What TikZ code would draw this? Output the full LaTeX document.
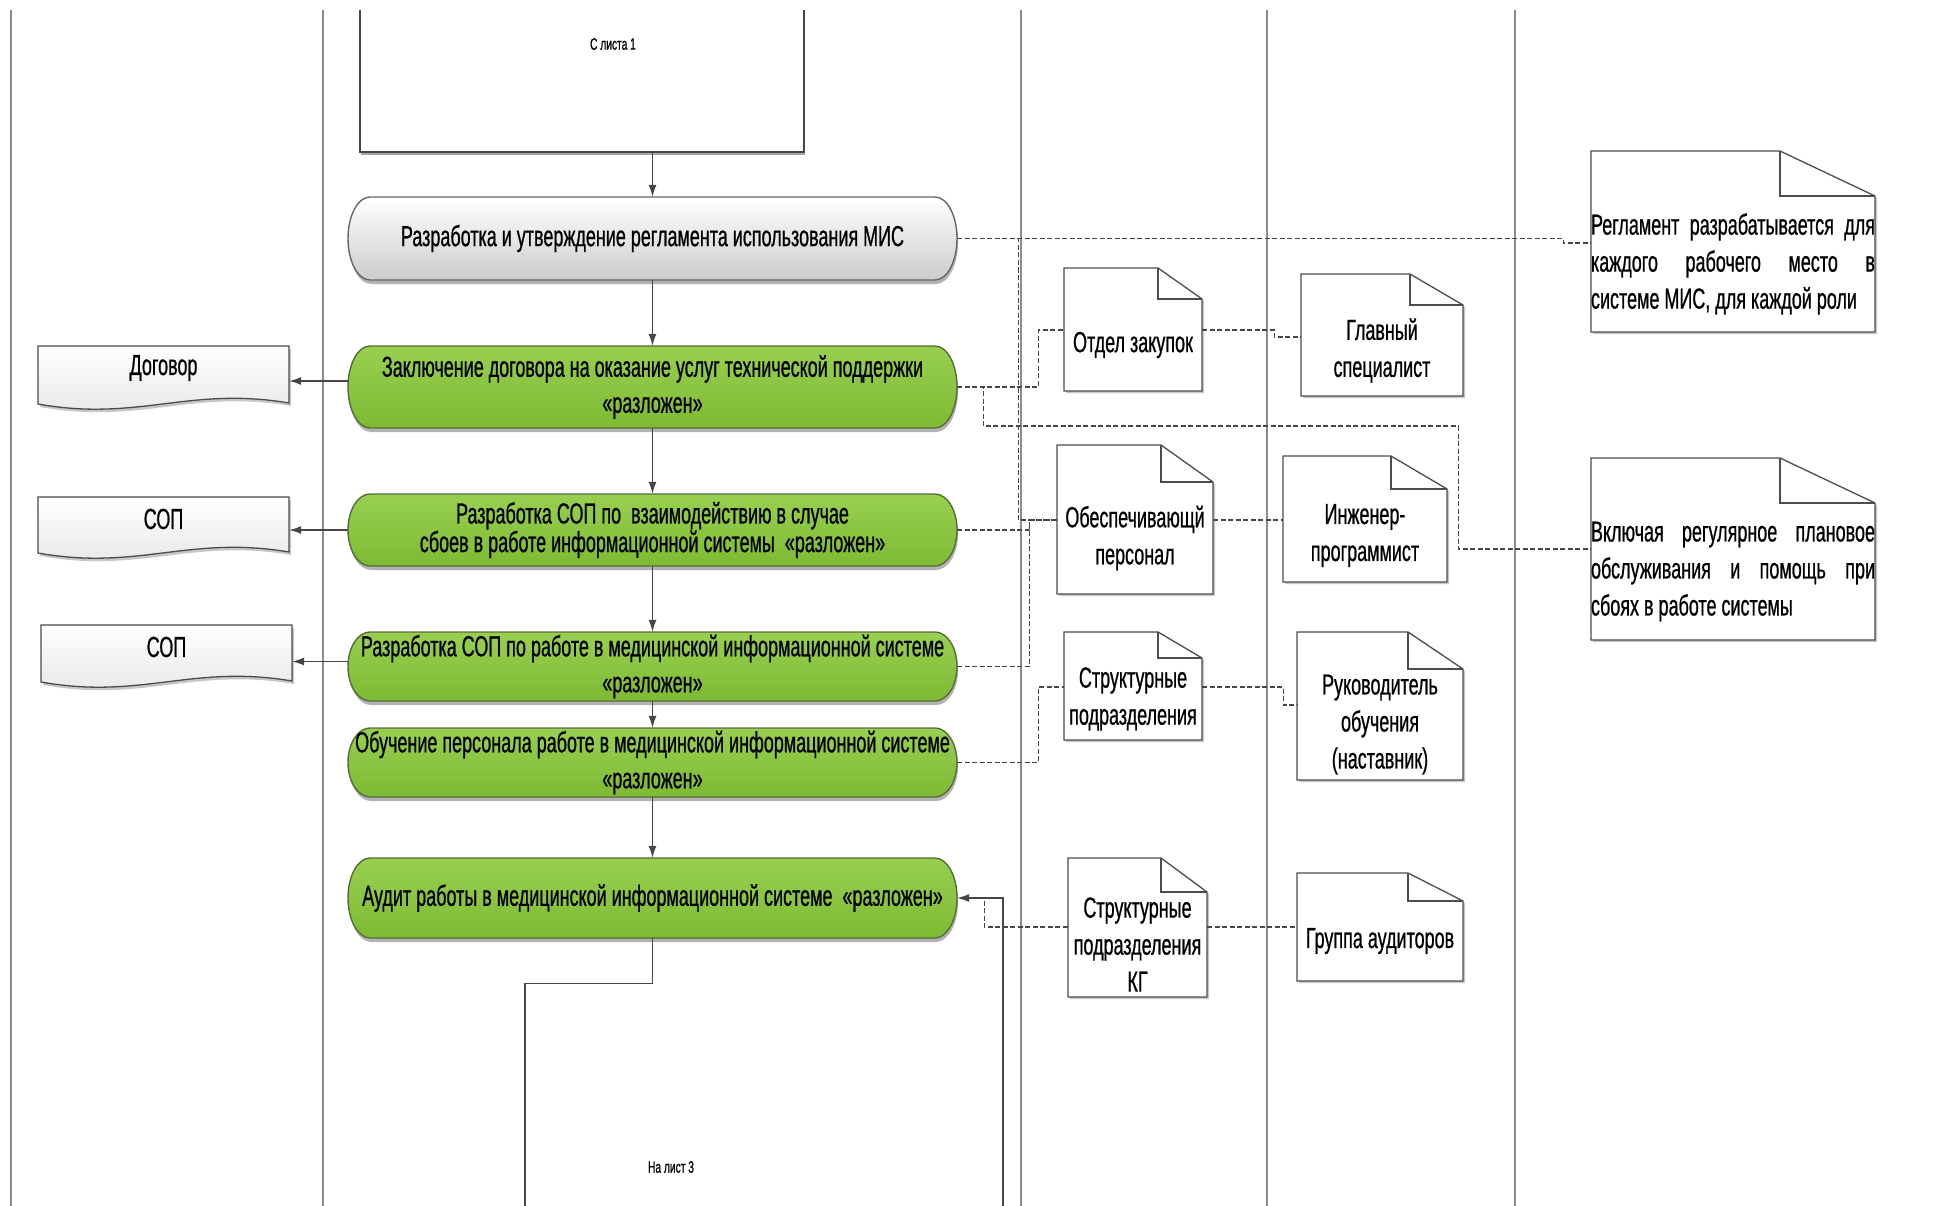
\documentclass[tikz,border=0pt]{standalone}
\usepackage{fontspec}
\setmainfont{Liberation Sans}[FakeStretch=0.62,FakeBold=0.7]
\usetikzlibrary{arrows.meta,calc}

\definecolor{procgreenT}{RGB}{152,207,80}
\definecolor{procgreenB}{RGB}{126,186,52}
\definecolor{procedge}{RGB}{86,108,58}
\definecolor{laneline}{RGB}{140,140,140}
\definecolor{inkline}{RGB}{70,70,70}

\tikzset{
  lane/.style={draw=laneline, line width=1.3pt},
  link/.style={draw=inkline, line width=1.2pt},
  arr/.style={link, -{Latex[length=12pt,width=8pt]}},
  dashlink/.style={draw=inkline, line width=1.3pt, dash pattern=on 5pt off 2.5pt},
  procfill/.style={draw=procedge, line width=1.4pt, top color=procgreenT, bottom color=procgreenB},
  whitefill/.style={draw=black!60, line width=1.4pt, top color=white, bottom color=black!20},
  shade/.style={fill=black!30, draw=none},
  lightshade/.style={fill=black!22, draw=none},
  proclabel/.style={inner sep=0pt, align=center, font=\fontsize{29}{36}\selectfont},
  notebody/.style={inner sep=0pt, align=center, font=\fontsize{29}{37}\selectfont},
  noteline/.style={draw=black!70, line width=1.3pt, fill=white},
  docline/.style={draw=black!70, line width=1.3pt, top color=white, bottom color=black!10},
  small/.style={inner sep=0pt, font=\fontsize{16.5}{19}\selectfont},
}

% process: rounded-end bar with shadow and a named node on top
% #1 path style, #2 node options, #3 name, #4 left, #5 top, #6 right, #7 bottom, #8 text
\newcommand\procbox[8]{%
  \fill[shade, shift={(1,4)}] ({#4+22},#5) -- ({#6-22},#5)
    .. controls ({#6-9.85},#5) and (#6,{#5+(#7-#5)*0.224}) .. (#6,{(#5+#7)/2})
    .. controls (#6,{#7-(#7-#5)*0.224}) and ({#6-9.85},#7) .. ({#6-22},#7)
    -- ({#4+22},#7)
    .. controls ({#4+9.85},#7) and (#4,{#7-(#7-#5)*0.224}) .. (#4,{(#5+#7)/2})
    .. controls (#4,{#5+(#7-#5)*0.224}) and ({#4+9.85},#5) .. ({#4+22},#5) -- cycle;
  \path[#1] ({#4+22},#5) -- ({#6-22},#5)
    .. controls ({#6-9.85},#5) and (#6,{#5+(#7-#5)*0.224}) .. (#6,{(#5+#7)/2})
    .. controls (#6,{#7-(#7-#5)*0.224}) and ({#6-9.85},#7) .. ({#6-22},#7)
    -- ({#4+22},#7)
    .. controls ({#4+9.85},#7) and (#4,{#7-(#7-#5)*0.224}) .. (#4,{(#5+#7)/2})
    .. controls (#4,{#5+(#7-#5)*0.224}) and ({#4+9.85},#5) .. ({#4+22},#5) -- cycle;
  \node[proclabel, minimum width={#6-#4}, minimum height={#7-#5}, #2] (#3)
    at ({(#4+#6)/2},{(#5+#7)/2}) {#8};
}

% document with a wavy lower edge
% #1 name, #2 left, #3 top, #4 right, #5 wave base, #6 text
\newcommand\docbox[6]{%
  \fill[lightshade, shift={(2,3)}] (#2,#3) -- (#4,#3) -- (#4,{#5-1})
    .. controls ({#4-0.4*(#4-#2)},{#5-18}) and ({#2+0.4*(#4-#2)},{#5+18}) .. (#2,#5) -- cycle;
  \path[docline] (#2,#3) -- (#4,#3) -- (#4,{#5-1})
    .. controls ({#4-0.4*(#4-#2)},{#5-18}) and ({#2+0.4*(#4-#2)},{#5+18}) .. (#2,#5) -- cycle;
  \node[notebody, minimum width={#4-#2}, minimum height=44] (#1)
    at ({(#2+#4)/2},{#3+22}) {#6};
}

% note with a folded corner; the node is the part below the fold
% #1 node options, #2 name, #3 left, #4 top, #5 right, #6 bottom, #7 fold x, #8 fold y, #9 text
\newcommand\notebox[9]{%
  \fill[lightshade, shift={(2,2)}] (#3,#4) -- (#7,#4) -- (#5,#8) -- (#5,#6) -- (#3,#6) -- cycle;
  \path[noteline] (#3,#4) -- (#7,#4) -- (#5,#8) -- (#5,#6) -- (#3,#6) -- cycle;
  \draw[noteline, fill=none] (#7,#4) -- (#7,#8) -- (#5,#8);
  \node[notebody, minimum width={#5-#3}, minimum height={#6-#8}, #1] (#2)
    at ({(#3+#5)/2},{(#8+#6)/2}) {#9};
}

\begin{document}
\begin{tikzpicture}[x=1pt,y=-1pt]
\useasboundingbox (0,0) rectangle (1934,1206);
\fill[white] (0,0) rectangle (1934,1206);

% swimlane separators
\foreach \lx in {11,323,1021,1267,1515}
  \draw[lane] (\lx,10) -- (\lx,1206);

% off-page block coming from sheet 1
\draw[link] (360,10) -- (360,152) -- (804,152) -- (804,10);
\draw[black!35, line width=1.2pt] (361,154) -- (805,154);
\node[minimum width=444, minimum height=142, inner sep=0pt] (fromsheet) at (582,81) {};
\node[small] (fromlabel) at (613,44) {С листа 1};

% main flow
\procbox{whitefill}{}{p1}{348}{197}{957}{280}{Разработка и утверждение регламента использования МИС}
\procbox{procfill}{}{p2}{348}{346}{957}{428}{Заключение договора на оказание услуг технической поддержки\\«разложен»}
\procbox{procfill}{font=\fontsize{29}{27}\selectfont}{p3}{348}{494}{957}{566}{Разработка СОП по\ \ взаимодействию в случае\\сбоев в работе информационной системы\ \ «разложен»}
\procbox{procfill}{}{p4}{348}{632}{957}{701}{Разработка СОП по работе в медицинской информационной системе\\«разложен»}
\procbox{procfill}{}{p5}{348}{728}{957}{797}{Обучение персонала работе в медицинской информационной системе\\«разложен»}
\procbox{procfill}{}{p6}{348}{858}{957}{938}{Аудит работы в медицинской информационной системе\ \ «разложен»}

\draw[arr] (p1.north |- fromsheet.south) -- (p1.north);
\draw[arr] (p1.south) -- (p2.north);
\draw[arr] (p2.south) -- (p3.north);
\draw[arr] (p3.south) -- (p4.north);
\draw[arr] (p4.south) -- (p5.north);
\draw[arr] (p5.south) -- (p6.north);

% output documents
\docbox{dog}{38}{346}{289}{404}{Договор}
\docbox{sop1}{38}{497}{289}{553}{СОП}
\docbox{sop2}{41}{625}{292}{682}{СОП}

\draw[arr] ([yshift=6pt]p2.west) -- ([yshift=6pt]p2.west -| dog.east);
\draw[arr] (p3.west) -- (p3.west -| sop1.east);
\draw[arr] ([yshift=5pt]p4.west) -- ([yshift=5pt]p4.west -| sop2.east);

% participants and comments
\notebox{align=left}{regl}{1591}{151}{1875}{332}{1780}{196}{\makebox[284pt][s]{Регламент разрабатывается для}\\\makebox[284pt][s]{каждого рабочего место в}\\системе МИС, для каждой роли}
\notebox{}{otdel}{1064}{268}{1202}{391}{1158}{299}{Отдел закупок}
\notebox{}{glav}{1301}{274}{1463}{396}{1410}{305}{Главный\\специалист}
\notebox{}{obesp}{1057}{445}{1213}{594}{1161}{482}{Обеспечивающй\\персонал}
\notebox{}{inzh}{1283}{456}{1447}{582}{1391}{489}{Инженер-\\программист}
\notebox{align=left}{vkl}{1591}{458}{1875}{640}{1780}{503}{\makebox[284pt][s]{Включая регулярное плановое}\\\makebox[284pt][s]{обслуживания и помощь при}\\сбоях в работе системы}
\notebox{}{strukt}{1064}{632}{1202}{740}{1158}{658}{Структурные\\подразделения}
\notebox{}{rukov}{1297}{632}{1463}{780}{1408}{669}{Руководитель\\обучения\\(наставник)}
\notebox{}{strkg}{1068}{858}{1207}{997}{1161}{892}{Структурные\\подразделения\\КГ}
\notebox{}{audgr}{1297}{873}{1463}{981}{1408}{901}{Группа аудиторов}

% associations
\draw[dashlink] (p1.east) -- ++(606,0) |- ([yshift=21pt]regl.west);
\draw[dashlink] (p1.east) -- ++(61,0) |- ([yshift=18pt]obesp.west);
\draw[dashlink] (p2.east) -- ++(81,0) |- ([yshift=15pt]otdel.west);
\draw[dashlink] (p2.east) -- ++(26,0) -- ++(0,39) -- ++(475,0) |- ([yshift=22.5pt]vkl.west);
\draw[dashlink] ([yshift=15pt]otdel.east) -- ++(72,0) |- ([yshift=13.5pt]glav.west);
\draw[dashlink] (p3.east) -- ++(72,0) |- ([yshift=18pt]obesp.west);
\draw[dashlink] (p4.east) -- ++(72,0) |- ([yshift=18pt]obesp.west);
\draw[dashlink] ([yshift=18pt]obesp.east) -- ([yshift=18pt]obesp.east -| inzh.west);
\draw[dashlink] (p5.east) -- ++(81,0) |- ([yshift=12pt]strukt.west);
\draw[dashlink] ([yshift=12pt]strukt.east) -- ++(81,0) |- ([yshift=19.5pt]rukov.west);
\draw[dashlink] ([yshift=17.5pt]strkg.west) -| ([xshift=27pt,yshift=-2pt]p6.east);
\draw[dashlink] ([yshift=17.5pt]strkg.east) -- ([yshift=17.5pt]strkg.east -| audgr.west);

% off-page links to sheet 3
\coordinate (tosheet) at (525,1206);
\coordinate (backin) at (1003,1206);
\draw[link] (p6.south) -- ++(0,45) -| (tosheet);
\draw[arr] (backin) |- (p6.east);
\node[small] (tolabel) at (671,1167) {На лист 3};

\end{tikzpicture}
\end{document}
